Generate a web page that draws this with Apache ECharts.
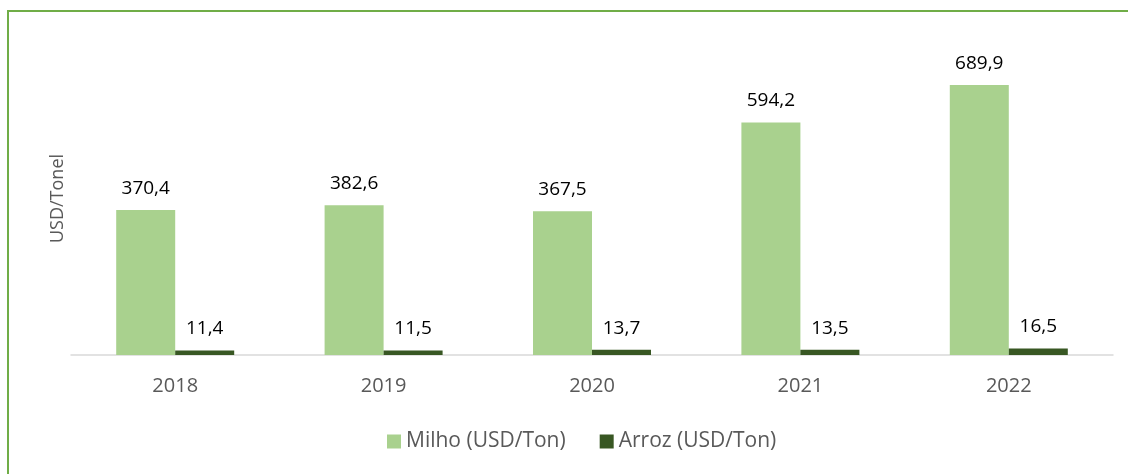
<!DOCTYPE html>
<html><head><meta charset="utf-8">
<script src="https://cdn.jsdelivr.net/npm/echarts@6/dist/echarts.min.js"></script>
<style>html,body{margin:0;padding:0;background:#fff}#c{width:1128px;height:474px}</style>
</head><body><div id="c"></div>
<script>
const years = ['2018','2019','2020','2021','2022'];
const milho = [370.4, 382.6, 367.5, 594.2, 689.9];
const arroz = [11.4, 11.5, 13.7, 13.5, 16.5];
const seriesNames = ['Milho (USD/Ton)', 'Arroz (USD/Ton)'];
const yName = 'USD/Tonel';

const FONT = '"Open Sans", sans-serif';
const fmt = p => p.value.toFixed(1).replace('.', ',');
const chart = echarts.init(document.getElementById('c'));
chart.setOption({
  animation: false,
  textStyle: { fontFamily: FONT },
  graphic: [
    { type: 'line', shape: { x1: 8, y1: 11, x2: 1128, y2: 11 }, style: { stroke: '#70AD47', lineWidth: 2 } },
    { type: 'line', shape: { x1: 8, y1: 10, x2: 8, y2: 474 }, style: { stroke: '#70AD47', lineWidth: 2 } }
  ],
  grid: { left: 71, right: 15, top: 42, bottom: 119 },
  legend: {
    bottom: 17, left: 382, itemWidth: 14, itemHeight: 14, itemGap: 34,
    icon: 'rect',
    textStyle: { fontSize: 21, color: '#595959', fontFamily: FONT },
    data: seriesNames
  },
  xAxis: {
    type: 'category', data: years,
    axisLine: { lineStyle: { color: '#D9D9D9', width: 1.5 } },
    axisTick: { show: false },
    axisLabel: { fontSize: 20, color: '#595959', margin: 21, fontFamily: FONT }
  },
  yAxis: {
    type: 'value', min: 0, max: 800,
    axisLabel: { show: false }, splitLine: { show: false },
    axisLine: { show: false }, axisTick: { show: false },
    name: yName, nameLocation: 'middle', nameGap: 4,
    nameTextStyle: { fontSize: 18, color: '#595959', fontFamily: FONT }
  },
  series: [
    { name: seriesNames[0], type: 'bar', data: milho, barWidth: 59, barGap: '0%',
      itemStyle: { color: '#A9D18E' },
      label: { show: true, position: 'top', distance: 12, fontSize: 19, color: '#000', formatter: fmt, fontFamily: FONT } },
    { name: seriesNames[1], type: 'bar', data: arroz, barWidth: 59, barGap: '0%',
      itemStyle: { color: '#385723' },
      label: { show: true, position: 'top', distance: 12, fontSize: 19, color: '#000', formatter: fmt, fontFamily: FONT } }
  ]
});
</script></body></html>
